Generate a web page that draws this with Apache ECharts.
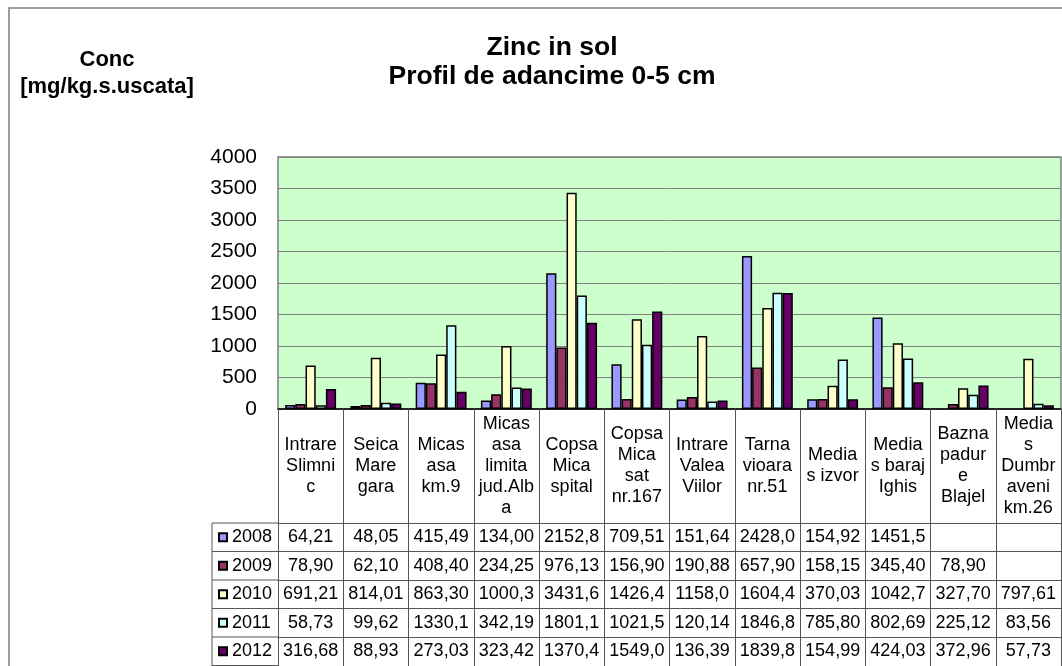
<!DOCTYPE html>
<html>
<head>
<meta charset="utf-8">
<style>
  html, body { margin: 0; padding: 0; background: #fff; }
  #chart { width: 1062px; height: 666px; }
</style>
<script src="https://cdn.jsdelivr.net/npm/echarts@6/dist/echarts.min.js"></script>
</head>
<body>
<div id="chart"></div>
<script>
var FONT = 'Liberation Sans, Arial, sans-serif';

// header labels, wrapped the way the data table shows them
var categories = [
  'Intrare\nSlimni\nc', 'Seica\nMare\ngara', 'Micas\nasa\nkm.9', 'Micas\nasa\nlimita\njud.Alb\na',
  'Copsa\nMica\nspital', 'Copsa\nMica\nsat\nnr.167', 'Intrare\nValea\nViilor', 'Tarna\nvioara\nnr.51',
  'Media\ns izvor', 'Media\ns baraj\nIghis', 'Bazna\npadur\ne\nBlajel', 'Media\ns\nDumbr\naveni\nkm.26'
];
var years = ['2008', '2009', '2010', '2011', '2012'];
var colors = ['#9999FF', '#993366', '#FFFFCC', '#CCFFFF', '#660066'];

var s2008 = [64.21, 48.05, 415.49, 134.00, 2152.8, 709.51, 151.64, 2428.0, 154.92, 1451.5, null, null];
var s2009 = [78.90, 62.10, 408.40, 234.25, 976.13, 156.90, 190.88, 657.90, 158.15, 345.40, 78.90, null];
var s2010 = [691.21, 814.01, 863.30, 1000.3, 3431.6, 1426.4, 1158.0, 1604.4, 370.03, 1042.7, 327.70, 797.61];
var s2011 = [58.73, 99.62, 1330.1, 342.19, 1801.1, 1021.5, 120.14, 1846.8, 785.80, 802.69, 225.12, 83.56];
var s2012 = [316.68, 88.93, 273.03, 323.42, 1370.4, 1549.0, 136.39, 1839.8, 154.99, 424.03, 372.96, 57.73];
var seriesData = [s2008, s2009, s2010, s2011, s2012];

// layout of the plot and the data table under it
var AXIS_Y = 409;
var TABLE_TOP = 523;
var ROW_H = 28.5;
var LEG_X = 212;
var PLOT_X = 278;
var LINE = '#555';

function cell(v) {
  if (v == null) return '';
  return (v >= 1000 ? v.toFixed(1) : v.toFixed(2)).replace('.', ',');
}

var chart = echarts.init(document.getElementById('chart'), null, { renderer: 'canvas' });

var xAxes = [{
  type: 'category',
  data: categories,
  position: 'bottom',
  axisLine: { lineStyle: { color: '#000', width: 1.5 } },
  axisTick: { show: true, length: 260, interval: 0, lineStyle: { color: LINE, width: 1 } },
  axisLabel: {
    interval: 0, margin: (TABLE_TOP - AXIS_Y) / 2, verticalAlign: 'middle',
    fontFamily: FONT, fontSize: 18, lineHeight: 21, color: '#000'
  }
}];
years.forEach(function (y, i) {
  xAxes.push({
    type: 'category',
    data: seriesData[i].map(cell),
    position: 'bottom',
    offset: TABLE_TOP - AXIS_Y + i * ROW_H,
    axisLine: { show: true, lineStyle: { color: LINE, width: 1 } },
    axisTick: { show: false },
    axisLabel: {
      interval: 0, margin: ROW_H / 2, verticalAlign: 'middle',
      fontFamily: FONT, fontSize: 18, color: '#000'
    }
  });
});

var tableLines = [{
  type: 'line', silent: true,
  shape: { x1: LEG_X, y1: TABLE_TOP, x2: LEG_X, y2: 700 },
  style: { stroke: LINE, lineWidth: 1 }
}];
for (var r = 0; r <= years.length; r++) {
  tableLines.push({
    type: 'line', silent: true,
    shape: { x1: LEG_X, y1: TABLE_TOP + r * ROW_H, x2: PLOT_X, y2: TABLE_TOP + r * ROW_H },
    style: { stroke: LINE, lineWidth: 1 }
  });
}

var option = {
  animation: false,
  backgroundColor: '#fff',
  title: [{
    text: 'Zinc in sol\nProfil de adancime 0-5 cm',
    left: 547, top: 28, textAlign: 'center',
    textStyle: { fontFamily: FONT, fontSize: 26.5, fontWeight: 'bold', lineHeight: 29, color: '#000' }
  }, {
    text: 'Conc\n[mg/kg.s.uscata]',
    left: 102, top: 41, textAlign: 'center',
    textStyle: { fontFamily: FONT, fontSize: 22, fontWeight: 'bold', lineHeight: 27, color: '#000' }
  }],
  legend: {
    orient: 'vertical',
    left: 218, top: TABLE_TOP, height: 300,
    padding: 0,
    itemWidth: 8, itemHeight: 8, itemGap: 0,
    icon: 'rect',
    data: years,
    textStyle: { fontFamily: FONT, fontSize: 18, lineHeight: ROW_H, color: '#000' },
    selectedMode: false
  },
  grid: {
    left: PLOT_X, top: 157, right: 1, bottom: 666 - AXIS_Y,
    show: true, backgroundColor: '#CCFFCC', borderColor: '#808080', borderWidth: 1.5,
    containLabel: false, outerBoundsMode: 'none'
  },
  xAxis: xAxes,
  yAxis: {
    type: 'value',
    min: 0, max: 4000, interval: 500,
    axisLine: { show: false },
    axisTick: { show: false },
    splitLine: { lineStyle: { color: '#808080', width: 1 } },
    axisLabel: {
      fontFamily: FONT, fontSize: 21, color: '#000', margin: 21,
      formatter: function (v) { return String(v); }
    }
  },
  graphic: [{
    type: 'rect', silent: true, z: -10,
    shape: { x: 9, y: 8, width: 1200, height: 800 },
    style: { fill: 'none', stroke: '#808080', lineWidth: 1.5 }
  }].concat(tableLines),
  series: years.map(function (y, i) {
    return {
      name: y,
      type: 'bar',
      xAxisIndex: 0,
      data: seriesData[i],
      barGap: '0%',
      barCategoryGap: '22%',
      itemStyle: { color: colors[i], borderColor: '#000', borderWidth: 1.5 }
    };
  })
};

chart.setOption(option);
</script>
</body>
</html>
